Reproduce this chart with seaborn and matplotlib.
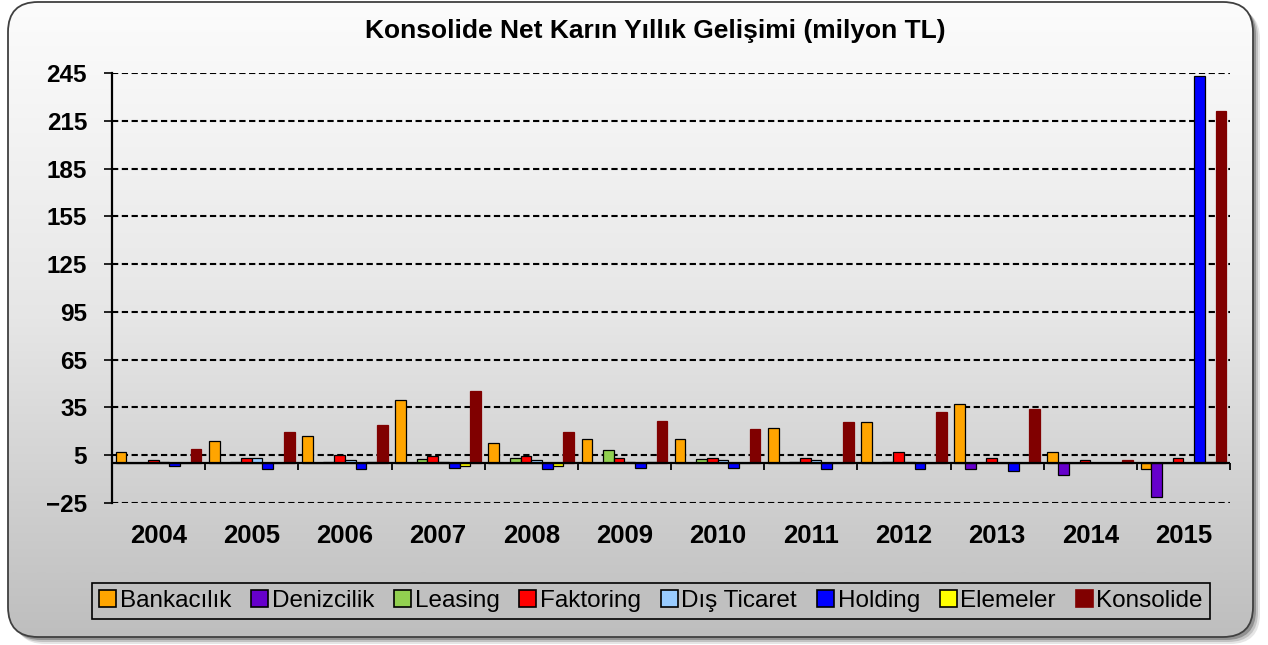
import numpy as np
import pandas as pd
import matplotlib.pyplot as plt
import seaborn as sns
from matplotlib.patches import Patch, FancyBboxPatch

sns.set_style("white")
plt.rcParams["font.family"] = ["Liberation Sans", "DejaVu Sans"]
plt.rcParams["text.color"] = "black"
plt.rcParams["xtick.color"] = "black"
plt.rcParams["ytick.color"] = "black"

# values (milyon TL)
years = ["2004", "2005", "2006", "2007", "2008", "2009",
         "2010", "2011", "2012", "2013", "2014", "2015"]
bankacilik = [7, 14, 17, 39.7, 12.9, 15, 15, 22.2, 26, 37.1, 7, -3.6]
denizcilik = [0, 0, 0, 0, 0, 0, 0, 0, 0, -3.6, -7.6, -21.5]
leasing = [0, 0.8, 1, 2.7, 3, 8, 2.7, 0.5, 0.5, 0, 0, 0]
faktoring = [2.1, 3.4, 4.9, 4.2, 4.2, 3.4, 3.4, 3.4, 7.2, 3.4, 2.1, 3]
dis_ticaret = [0.8, 3.4, 1.7, 1, 1.7, 0.5, 1.7, 1.7, 0.5, 0, 0, 0]
holding = [-1.5, -3.6, -3.6, -3, -3.8, -3, -3, -3.8, -3.6, -4.6, 0, 243]
elemeler = [0, 0, 0.5, -1.5, -1.5, 0.5, 0, 0, 0, 0, 0, 0.5]
konsolide = [8.6, 19.6, 23.8, 45.6, 19.6, 26.6, 21.7, 26, 31.9, 33.8, 1.7, 221]

items = ["Bankacılık", "Denizcilik", "Leasing", "Faktoring",
         "Dış Ticaret", "Holding", "Elemeler", "Konsolide"]
colors = ["#FFA500", "#6600CC", "#92D050", "#FF0000",
          "#99CCFF", "#0000FF", "#FFFF00", "#800000"]
series = [bankacilik, denizcilik, leasing, faktoring,
          dis_ticaret, holding, elemeler, konsolide]

df = pd.DataFrame({
    "Yıl": np.tile(years, len(items)),
    "Kalem": np.repeat(items, len(years)),
    "Kar": np.concatenate(series),
})
palette = dict(zip(items, colors))

W, H = 1268, 645
fig = plt.figure(figsize=(W / 100, H / 100), dpi=100)
fig.patch.set_facecolor("white")

# rounded chart frame with shadow and gradient fill
bg = fig.add_axes([0, 0, 1, 1])
bg.set_xlim(0, W)
bg.set_ylim(H, 0)
bg.axis("off")
for off, a in [(7, 0.10), (5, 0.15), (3, 0.25)]:
    bg.add_patch(FancyBboxPatch((8 + off, 2 + off), 1245, 635,
                                boxstyle="round,pad=0,rounding_size=30",
                                facecolor="black", edgecolor="none", alpha=a))
frame = FancyBboxPatch((8, 2), 1245, 635,
                       boxstyle="round,pad=0,rounding_size=30",
                       facecolor="none", edgecolor="#404040", linewidth=1.3, zorder=3)
bg.add_patch(frame)
grad = np.linspace(0, 1, 256).reshape(-1, 1)
img = bg.imshow(grad, extent=(8, 1253, 637, 2), aspect="auto",
                cmap=sns.blend_palette(["#FCFCFC", "#E6E6E6", "#BEBEBE"], as_cmap=True),
                zorder=1)
img.set_clip_path(frame)

ax = fig.add_axes([112 / W, 1 - 503 / H, (1230 - 112) / W, (503 - 73) / H])
ax.set_facecolor("none")
sns.barplot(data=df, x="Yıl", y="Kar", hue="Kalem", hue_order=items,
            palette=palette, saturation=1, width=0.92, edgecolor="black",
            linewidth=0.9, legend=False, ax=ax, zorder=3)
for bar in ax.containers[-1]:
    bar.set_edgecolor("#800000")

ax.set_ylim(-25, 245)
ax.set_yticks(np.arange(-25, 246, 30))
ax.yaxis.grid(True, color="black", linestyle=(0, (3, 1.7)), linewidth=1.5)
ax.set_axisbelow(True)
ax.axhline(0, color="black", linewidth=1.6, zorder=4)
ax.vlines(np.arange(0.5, len(years), 1), -4, 0, color="black",
          linewidth=1.3, clip_on=False, zorder=4)
ax.set_xlim(-0.5, len(years) - 0.5)
for s in ["top", "right", "bottom"]:
    ax.spines[s].set_visible(False)
ax.spines["left"].set_color("black")
ax.spines["left"].set_linewidth(1.6)
ax.set_xlabel("")
ax.set_ylabel("")
ax.tick_params(axis="x", length=0, pad=15, labelsize=18.5)
ax.tick_params(axis="y", length=6, width=1.2, direction="out", pad=12,
               labelsize=17.5, left=True, color="black")
for lab in ax.get_xticklabels() + ax.get_yticklabels():
    lab.set_fontweight("bold")

fig.text(655 / W, 1 - 31 / H, "Konsolide Net Karın Yıllık Gelişimi (milyon TL)",
         ha="center", va="center", fontsize=19, fontweight="bold")

handles = [Patch(facecolor=c, edgecolor=("black" if n != "Konsolide" else c),
                 linewidth=1.2, label=n) for n, c in zip(items, colors)]
leg = fig.legend(handles=handles, loc="center", ncol=8, mode="expand",
                 bbox_to_anchor=(92 / W, 1 - 623 / H, 1118 / W, 44 / H),
                 fontsize=17.5, frameon=True, fancybox=False, framealpha=1,
                 facecolor="#C0C0C0", edgecolor="black", borderaxespad=0,
                 handlelength=0.7, handleheight=0.7, handletextpad=0.15,
                 columnspacing=0.5, borderpad=0.3)
leg.get_frame().set_linewidth(1.2)

fig.savefig("out.png", dpi=100)
